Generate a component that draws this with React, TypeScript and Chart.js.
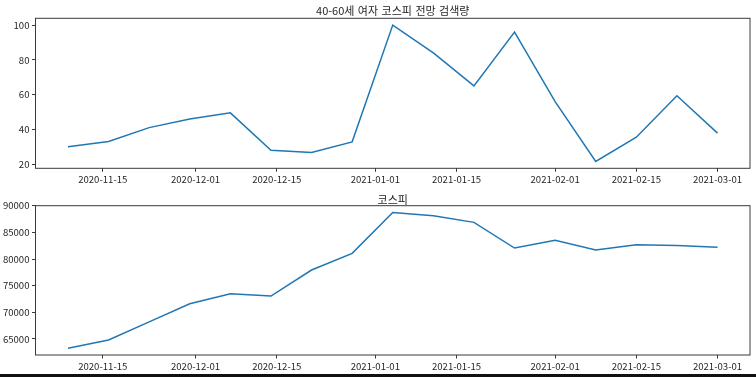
import React, { useEffect, useRef } from 'react';
import { Chart, registerables } from 'chart.js';
Chart.register(...registerables);

const DATES = ['2020-11-09', '2020-11-16', '2020-11-23', '2020-11-30', '2020-12-07', '2020-12-14', '2020-12-21', '2020-12-28', '2021-01-04', '2021-01-11', '2021-01-18', '2021-01-25', '2021-02-01', '2021-02-08', '2021-02-15', '2021-02-22', '2021-03-01'];
const SEARCH = [30, 33, 41, 46, 49.5, 28, 26.7, 32.8, 100, 84, 65, 96, 56, 21.5, 35.5, 59.3, 37.8];
const KOSPI = [63270, 64810, 68200, 71600, 73500, 73060, 77940, 81070, 88730, 88100, 86880, 82060, 83500, 81690, 82680, 82560, 82190];
const X_TICKS = ['2020-11-15', '2020-12-01', '2020-12-15', '2021-01-01', '2021-01-15', '2021-02-01', '2021-02-15', '2021-03-01'];
const SEARCH_TICKS = [20, 40, 60, 80, 100];
const KOSPI_TICKS = [65000, 70000, 75000, 80000, 85000, 90000];
const TITLE_TOP = '40-60세 여자 코스피 전망 검색량';
const TITLE_BOTTOM = '코스피';

const FAMILY = '"Noto Sans CJK KR", "Noto Sans", sans-serif';
const SPINE = '#3a3a3a';
const TEXT = '#262626';
const LINE = '#1f77b4';

const toDay = (s: string) => {
  const [y, m, d] = s.split('-').map(Number);
  return Date.UTC(y, m - 1, d) / 86400000;
};

const boxPlugin = {
  id: 'box',
  afterDraw(chart: any) {
    const { ctx, chartArea: a } = chart;
    ctx.save();
    ctx.strokeStyle = SPINE;
    ctx.lineWidth = 1;
    ctx.strokeRect(a.left, a.top, a.right - a.left, a.bottom - a.top);
    const t = chart.options.plugins.axTitle;
    if (t && t.text) {
      ctx.fillStyle = TEXT;
      ctx.font = `normal ${t.size}px ${FAMILY}`;
      ctx.textAlign = 'center';
      ctx.textBaseline = 'middle';
      try { (ctx as any).wordSpacing = t.wordSpacing + 'px'; } catch (e) {}
      ctx.fillText(t.text, (a.left + a.right) / 2, t.y);
    }
    ctx.restore();
  },
};

function makeConfig(values: number[], yTicks: number[], title: string, titleY: number, topPad: number, xAxisH: number) {
  const xs = DATES.map(toDay);
  const xMinD = Math.min(...xs), xMaxD = Math.max(...xs);
  const xr = xMaxD - xMinD;
  const yMinD = Math.min(...values), yMaxD = Math.max(...values);
  const yr = yMaxD - yMinD;
  const tickFont = { family: FAMILY, size: 9.6 };
  return {
    type: 'line' as const,
    data: {
      datasets: [
        {
          data: xs.map((x, i) => ({ x, y: values[i] })),
          borderColor: LINE,
          borderWidth: 1.5,
          pointRadius: 0,
          tension: 0,
          fill: false,
        },
      ],
    },
    options: {
      animation: false as const,
      responsive: false,
      events: [],
      layout: { padding: { left: 0, right: 6, top: topPad, bottom: 0 } },
      plugins: {
        legend: { display: false },
        tooltip: { enabled: false },
        title: { display: false },
        axTitle: { text: title, y: titleY, size: 11, wordSpacing: 1 },
      },
      scales: {
        x: {
          type: 'linear' as const,
          min: xMinD - 0.05 * xr,
          max: xMaxD + 0.05 * xr,
          afterBuildTicks: (s: any) => {
            s.ticks = X_TICKS.map((t) => ({ value: toDay(t) }));
          },
          afterFit: (s: any) => {
            s.height = xAxisH;
          },
          ticks: {
            callback: (_v: any, i: number) => X_TICKS[i],
            font: tickFont,
            color: TEXT,
            padding: 2,
            maxRotation: 0,
            autoSkip: false,
          },
          grid: { drawOnChartArea: false, drawTicks: true, tickLength: 3.5, color: SPINE, lineWidth: 1 },
          border: { display: false },
        },
        y: {
          type: 'linear' as const,
          min: yMinD - 0.05 * yr,
          max: yMaxD + 0.05 * yr,
          afterBuildTicks: (s: any) => {
            s.ticks = yTicks.map((v) => ({ value: v }));
          },
          afterFit: (s: any) => {
            s.width = 35.5;
          },
          ticks: {
            callback: (v: any) => String(v),
            font: tickFont,
            color: TEXT,
            padding: 2.5,
            autoSkip: false,
          },
          grid: { drawOnChartArea: false, drawTicks: true, tickLength: 3.5, color: SPINE, lineWidth: 1 },
          border: { display: false },
        },
      },
    },
    plugins: [boxPlugin],
  };
}

function ChartCanvas({ cfg, width, height }: { cfg: any; width: number; height: number }) {
  const ref = useRef<HTMLCanvasElement>(null);
  useEffect(() => {
    if (!ref.current) return;
    const chart = new Chart(ref.current, cfg);
    return () => chart.destroy();
  }, [cfg]);
  return <canvas ref={ref} width={width} height={height} style={{ display: 'block', width, height }} />;
}

const TOP_CFG = makeConfig(SEARCH, SEARCH_TICKS, TITLE_TOP, 11, 18.3, 19.7);
const BOTTOM_CFG = makeConfig(KOSPI, KOSPI_TICKS, TITLE_BOTTOM, 11.5, 17.7, 22);

export default function App() {
  return (
    <div style={{ position: 'fixed', left: 0, top: 0, width: 756, height: 377, background: '#fff', overflow: 'hidden' }}>
      <div style={{ position: 'absolute', left: 0, top: 0 }}>
        <ChartCanvas cfg={TOP_CFG} width={756} height={188} />
      </div>
      <div style={{ position: 'absolute', left: 0, top: 188 }}>
        <ChartCanvas cfg={BOTTOM_CFG} width={756} height={189} />
      </div>
      <div style={{ position: 'absolute', left: 0, top: 374, width: 756, height: 3, background: '#111' }} />
    </div>
  );
}
